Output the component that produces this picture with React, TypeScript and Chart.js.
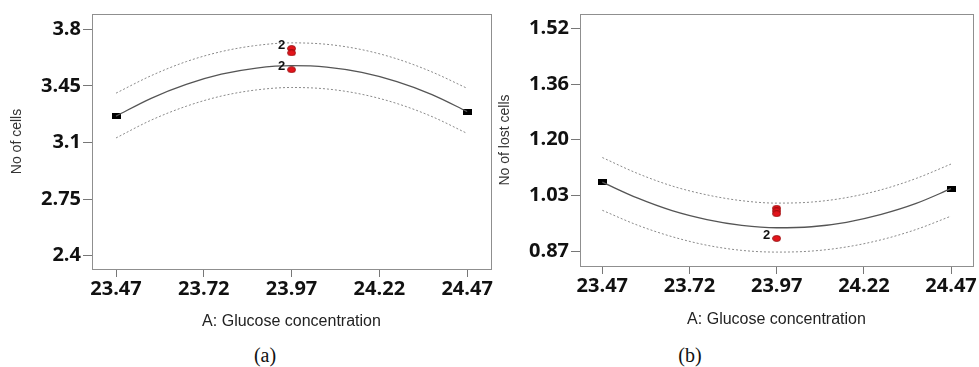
import React, { useEffect, useRef } from "react";
import { Chart, registerables } from "chart.js";
Chart.register(...registerables);

// ---- data ----
const xTickValues = [23.47, 23.72, 23.97, 24.22, 24.47];
const fitX = [23.47, 23.57, 23.67, 23.77, 23.87, 23.97, 24.07, 24.17, 24.27, 24.37, 24.47];

const cellsFit = [3.263, 3.373, 3.459, 3.522, 3.56, 3.575, 3.566, 3.533, 3.476, 3.396, 3.291];
const cellsUpper = [3.405, 3.513, 3.6, 3.662, 3.7, 3.716, 3.707, 3.674, 3.617, 3.536, 3.435];
const cellsLower = [3.128, 3.238, 3.324, 3.387, 3.425, 3.44, 3.431, 3.398, 3.341, 3.26, 3.156];
const cellsEndX = [23.47, 24.47];
const cellsEnd = [3.263, 3.291];
const cellsCenterX = [23.97, 23.97, 23.97];
const cellsCenter = [3.681, 3.654, 3.55];
const cellsCounts = ["2", "", "2"];
const cellsYTicks = [2.4, 2.75, 3.1, 3.45, 3.8];
const cellsYLabels = ["2.4", "2.75", "3.1", "3.45", "3.8"];

const lostFit = [1.071, 1.025, 0.988, 0.962, 0.945, 0.938, 0.941, 0.954, 0.977, 1.009, 1.052];
const lostUpper = [1.143, 1.097, 1.06, 1.034, 1.017, 1.01, 1.013, 1.026, 1.049, 1.082, 1.124];
const lostLower = [0.989, 0.946, 0.912, 0.887, 0.872, 0.867, 0.87, 0.882, 0.903, 0.933, 0.972];
const lostEndX = [23.47, 24.47];
const lostEnd = [1.071, 1.052];
const lostCenterX = [23.97, 23.97, 23.97, 23.97];
const lostCenter = [0.995, 0.987, 0.979, 0.907];
const lostCounts = ["", "", "", "2"];
const lostYTicks = [0.87, 1.0325, 1.195, 1.3575, 1.52];
const lostYLabels = ["0.87", "1.03", "1.20", "1.36", "1.52"];

const xTitle = "A: Glucose concentration";

function pts(xs: number[], ys: number[]) {
  return xs.map((x, i) => ({ x, y: ys[i] }));
}

function makeRect(): HTMLCanvasElement {
  const c = document.createElement("canvas");
  c.width = 9;
  c.height = 6;
  const g = c.getContext("2d")!;
  g.fillStyle = "#000";
  g.fillRect(0, 0, 9, 6);
  return c;
}
function makeEllipse(): HTMLCanvasElement {
  const c = document.createElement("canvas");
  c.width = 9;
  c.height = 7;
  const g = c.getContext("2d")!;
  g.beginPath();
  g.ellipse(4.5, 3.5, 4, 3, 0, 0, Math.PI * 2);
  g.fillStyle = "#e3141b";
  g.fill();
  g.lineWidth = 0.8;
  g.strokeStyle = "#8a0a0a";
  g.stroke();
  return c;
}

const framePlugin = {
  id: "frameAndCounts",
  afterDraw(chart: any) {
    const { ctx, chartArea } = chart;
    ctx.save();
    ctx.strokeStyle = "#8f8f8f";
    ctx.lineWidth = 1;
    ctx.strokeRect(
      Math.round(chartArea.left) + 0.5,
      Math.round(chartArea.top) + 0.5,
      Math.round(chartArea.right - chartArea.left),
      Math.round(chartArea.bottom - chartArea.top)
    );
    ctx.fillStyle = "#111";
    ctx.font = "bold 13px 'Liberation Sans', Arial, sans-serif";
    ctx.textAlign = "center";
    ctx.textBaseline = "middle";
    chart.data.datasets.forEach((ds: any, i: number) => {
      if (!ds.counts) return;
      const meta = chart.getDatasetMeta(i);
      meta.data.forEach((el: any, j: number) => {
        const t = ds.counts[j];
        if (t) ctx.fillText(t, el.x - 10, el.y - 3);
      });
    });
    ctx.restore();
  },
};

interface Cfg {
  fit: number[];
  upper: number[];
  lower: number[];
  endX: number[];
  end: number[];
  centerX: number[];
  center: number[];
  counts: string[];
  yTicks: number[];
  yLabels: string[];
  yTitle: string;
  xMin: number;
  xMax: number;
  yMin: number;
  yMax: number;
  padTop: number;
  padRight: number;
  xHeight: number;
  xTitlePad: number;
}

function buildChart(canvas: HTMLCanvasElement, c: Cfg) {
  const rect = makeRect();
  const ell = makeEllipse();
  const lineBase = {
    type: "line",
    pointRadius: 0,
    cubicInterpolationMode: "monotone",
    fill: false,
  };
  return new Chart(canvas, {
    type: "scatter",
    data: {
      datasets: [
        {
          ...lineBase,
          data: pts(fitX, c.upper),
          borderColor: "#8a8a8a",
          borderWidth: 1,
          borderDash: [2, 2],
        } as any,
        {
          ...lineBase,
          data: pts(fitX, c.lower),
          borderColor: "#8a8a8a",
          borderWidth: 1,
          borderDash: [2, 2],
        } as any,
        {
          ...lineBase,
          data: pts(fitX, c.fit),
          borderColor: "#555",
          borderWidth: 1.3,
        } as any,
        {
          data: pts(c.endX, c.end),
          pointStyle: rect,
          showLine: false,
        },
        {
          data: pts(c.centerX, c.center),
          pointStyle: ell,
          showLine: false,
          counts: c.counts,
        } as any,
      ],
    },
    options: {
      animation: false,
      responsive: false,
      maintainAspectRatio: false,
      layout: { padding: { top: c.padTop, right: c.padRight, left: 0, bottom: 0 } },
      plugins: { legend: { display: false }, tooltip: { enabled: false } },
      scales: {
        x: {
          type: "linear",
          min: c.xMin,
          max: c.xMax,
          afterBuildTicks: (s: any) => {
            s.ticks = xTickValues.map((v) => ({ value: v }));
          },
          afterFit: (s: any) => {
            s.height = c.xHeight;
          },
          grid: { drawOnChartArea: false, drawTicks: true, tickLength: 8, color: "#777" },
          border: { display: false },
          ticks: {
            padding: 0,
            color: "#111",
            font: { family: "'Open Sans', sans-serif", size: 20, weight: "bold" },
            callback: (v: any) => Number(v).toFixed(2),
            maxRotation: 0,
            autoSkip: false,
          },
          title: {
            display: true,
            text: xTitle,
            color: "#222",
            font: { family: "'Liberation Sans', Arial, sans-serif", size: 16 },
            padding: { top: 0, bottom: c.xTitlePad },
          },
        },
        y: {
          type: "linear",
          min: c.yMin,
          max: c.yMax,
          afterBuildTicks: (s: any) => {
            s.ticks = c.yTicks.map((v) => ({ value: v }));
          },
          afterFit: (s: any) => {
            s.width = 92;
          },
          grid: { drawOnChartArea: false, drawTicks: true, tickLength: 9, color: "#777" },
          border: { display: false },
          ticks: {
            padding: 2,
            color: "#111",
            font: { family: "'Open Sans', sans-serif", size: 20, weight: "bold" },
            callback: (_v: any, i: number) => c.yLabels[i],
            autoSkip: false,
          },
          title: {
            display: true,
            text: c.yTitle,
            color: "#333",
            font: { family: "'Liberation Sans', Arial, sans-serif", size: 14 },
            padding: { top: 8.6, bottom: 0 },
          },
        },
      },
    } as any,
    plugins: [framePlugin],
  });
}

export default function App() {
  const refA = useRef<HTMLCanvasElement>(null);
  const refB = useRef<HTMLCanvasElement>(null);

  useEffect(() => {
    const a = buildChart(refA.current!, {
      fit: cellsFit,
      upper: cellsUpper,
      lower: cellsLower,
      endX: cellsEndX,
      end: cellsEnd,
      centerX: cellsCenterX,
      center: cellsCenter,
      counts: cellsCounts,
      yTicks: cellsYTicks,
      yLabels: cellsYLabels,
      yTitle: "No of cells",
      xMin: 23.4016,
      xMax: 24.538,
      yMin: 2.3175,
      yMax: 3.8945,
      padTop: 7,
      padRight: 9,
      xHeight: 66,
      xTitlePad: 3.4,
    });
    const b = buildChart(refB.current!, {
      fit: lostFit,
      upper: lostUpper,
      lower: lostLower,
      endX: lostEndX,
      end: lostEnd,
      centerX: lostCenterX,
      center: lostCenter,
      counts: lostCounts,
      yTicks: lostYTicks,
      yLabels: lostYLabels,
      yTitle: "No of lost cells",
      xMin: 23.406,
      xMax: 24.533,
      yMin: 0.8264,
      yMax: 1.562,
      padTop: 8,
      padRight: 6,
      xHeight: 69,
      xTitlePad: 6,
    });
    return () => {
      a.destroy();
      b.destroy();
    };
  }, []);

  const capStyle: React.CSSProperties = {
    position: "absolute",
    top: 355,
    transform: "translate(-50%, -50%)",
    fontFamily: "'Liberation Serif', 'Times New Roman', serif",
    fontSize: 20,
    color: "#111",
    whiteSpace: "nowrap",
  };

  return (
    <div
      style={{
        position: "absolute",
        left: 0,
        top: 0,
        width: 979,
        height: 367,
        background: "#fff",
        overflow: "hidden",
      }}
    >
      <canvas
        ref={refA}
        width={500}
        height={335}
        style={{ position: "absolute", left: 0, top: 0, width: 500, height: 335 }}
      />
      <canvas
        ref={refB}
        width={491}
        height={335}
        style={{ position: "absolute", left: 488, top: 0, width: 491, height: 335 }}
      />
      <div style={{ ...capStyle, left: 265 }}>(a)</div>
      <div style={{ ...capStyle, left: 690 }}>(b)</div>
    </div>
  );
}
